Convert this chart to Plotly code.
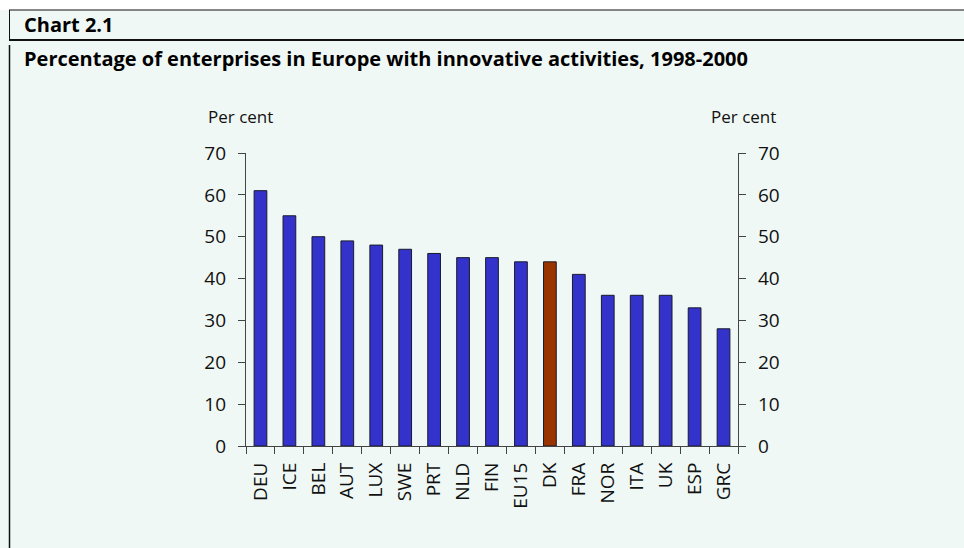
import plotly.graph_objects as go

countries = ["DEU", "ICE", "BEL", "AUT", "LUX", "SWE", "PRT", "NLD", "FIN",
             "EU15", "DK", "FRA", "NOR", "ITA", "UK", "ESP", "GRC"]
share = [61, 55, 50, 49, 48, 47, 46, 45, 45, 44, 44, 41, 36, 36, 36, 33, 28]
highlight = "DK"

y_ticks = [0, 10, 20, 30, 40, 50, 60, 70]

BLUE = "#3333cc"
RUST = "#993300"
BG = "#f0f8f5"
FONT = "Open Sans"
TXT = "#111111"

colors = [RUST if c == highlight else BLUE for c in countries]

fig = go.Figure()
fig.add_trace(go.Bar(
    x=countries, y=share,
    marker=dict(color=colors, line=dict(color="#1a1a2a", width=1)),
    width=0.44,
    hoverinfo="x+y",
))
# invisible trace to carry the right-hand axis
fig.add_trace(go.Scatter(x=countries, y=share, yaxis="y2", mode="markers",
                         marker=dict(opacity=0), hoverinfo="skip", showlegend=False))

axis_common = dict(
    range=[0, 70], tickvals=y_ticks, showgrid=False, zeroline=False,
    showline=True, linecolor="#444444", linewidth=1.2,
    ticks="outside", ticklen=7, tickcolor="#444444", tickwidth=1.2,
    tickfont=dict(family=FONT, size=19, color=TXT), fixedrange=True,
)

fig.update_layout(
    width=964, height=548,
    paper_bgcolor=BG, plot_bgcolor=BG,
    margin=dict(l=246, r=226, t=153, b=102),
    showlegend=False, bargap=0.5,
    font=dict(family=FONT, color=TXT),
    xaxis=dict(
        type="category", showgrid=False, zeroline=False,
        showline=True, linecolor="#444444", linewidth=1.2,
        ticks="outside", tickson="boundaries", ticklen=7,
        tickcolor="#444444", tickwidth=1.2, ticklabelstandoff=8,
        tickangle=-90, tickfont=dict(family=FONT, size=19, color=TXT),
        range=[-0.5, len(countries) - 0.5], fixedrange=True,
    ),
    yaxis=dict(side="left", ticklabelstandoff=8, **axis_common),
    yaxis2=dict(side="right", overlaying="y", ticklabelstandoff=8, **axis_common),
    shapes=[
        # white strip above the header
        dict(type="rect", xref="paper", yref="paper", x0=-1, x1=2,
             y0=1 + (153 - 10) / 293, y1=1 + 153 / 293,
             fillcolor="white", line=dict(width=0), layer="below"),
        # thin rule above "Chart 2.1"
        dict(type="line", xref="paper", yref="paper",
             x0=(9 - 246) / 492, x1=(964 - 246) / 492,
             y0=1 + (153 - 10) / 293, y1=1 + (153 - 10) / 293,
             line=dict(color="#111111", width=1)),
        # heavier rule under the chart number
        dict(type="line", xref="paper", yref="paper",
             x0=(9 - 246) / 492, x1=(964 - 246) / 492,
             y0=1 + (153 - 40) / 293, y1=1 + (153 - 40) / 293,
             line=dict(color="#111111", width=2)),
        # left frame rules
        dict(type="line", xref="paper", yref="paper",
             x0=(9.5 - 246) / 492, x1=(9.5 - 246) / 492,
             y0=1 + (153 - 10) / 293, y1=1 + (153 - 40) / 293,
             line=dict(color="#111111", width=1)),
        dict(type="line", xref="paper", yref="paper",
             x0=(9.5 - 246) / 492, x1=(9.5 - 246) / 492,
             y0=1 + (153 - 45) / 293, y1=-102 / 293 - 0.05,
             line=dict(color="#111111", width=1.5)),
    ],
    annotations=[
        dict(text="<b>Chart 2.1</b>", xref="paper", yref="paper",
             x=(22 - 246) / 492, y=1 + (153 - 25) / 293,
             xanchor="left", yanchor="middle", showarrow=False,
             font=dict(family=FONT, size=20, color="#000000")),
        dict(text="<b>Percentage of enterprises in Europe with innovative activities, 1998-2000</b>",
             xref="paper", yref="paper",
             x=(22 - 246) / 492, y=1 + (153 - 58) / 293,
             xanchor="left", yanchor="middle", showarrow=False,
             font=dict(family=FONT, size=20, color="#000000")),
        dict(text="Per cent", xref="paper", yref="paper",
             x=(240 - 246) / 492, y=1 + (153 - 117) / 293,
             xanchor="center", yanchor="middle", showarrow=False,
             font=dict(family=FONT, size=17, color=TXT)),
        dict(text="Per cent", xref="paper", yref="paper",
             x=(743 - 246) / 492, y=1 + (153 - 117) / 293,
             xanchor="center", yanchor="middle", showarrow=False,
             font=dict(family=FONT, size=17, color=TXT)),
    ],
)

fig.write_html("out.html")
